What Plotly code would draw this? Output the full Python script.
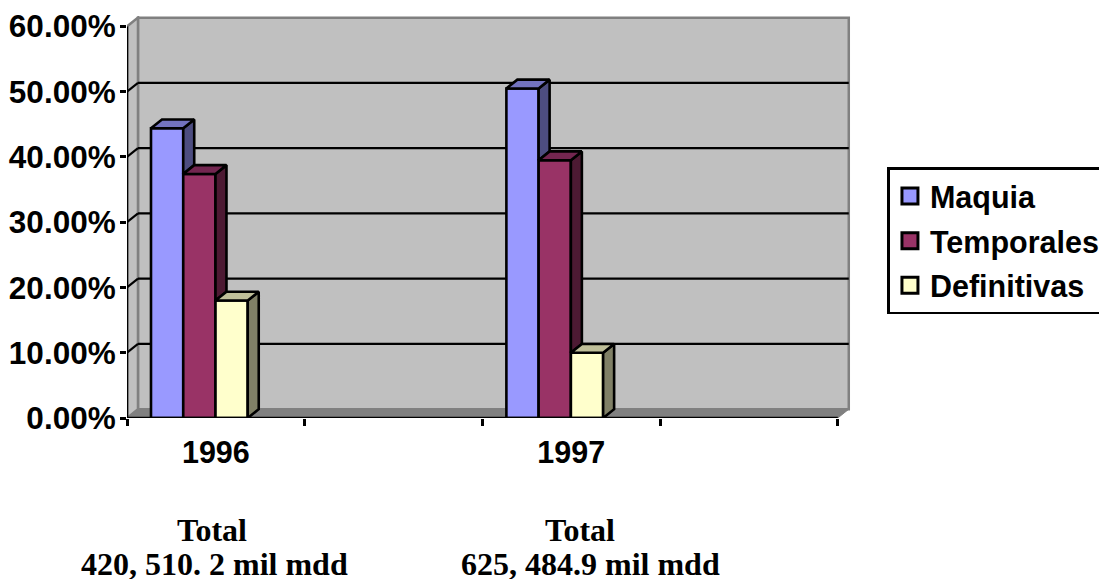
import plotly.graph_objects as go

# ---- data ----
categories = ["1996", "1997"]
category_slots = [0.5, 2.5]          # centre of slot on the 4-slot category axis
series_names = ["Maquia", "Temporales", "Definitivas"]
maquia = [44.4, 50.5]
temporales = [37.4, 39.5]
definitivas = [18.0, 10.0]
y_ticks = [0, 10, 20, 30, 40, 50, 60]
y_ticktext = ["0.00%", "10.00%", "20.00%", "30.00%", "40.00%", "50.00%", "60.00%"]
x_divisions = [0, 1, 2, 3, 4]

# ---- styles ----
series_values = [maquia, temporales, definitivas]
front = ["#9999FF", "#993366", "#FFFFCC"]
side = ["#4D4D80", "#4D1A33", "#808066"]
top = ["#7373BF", "#732650", "#BFBF99"]
DX, DY = 0.0618, 1.35         # oblique depth in axis units
BAR_W, GAP = 0.1815, 0.135
OUT = dict(color="black", width=2.6)
GRID = dict(color="black", width=2.2)
GRAY = "#808080"
WALL = "#C0C0C0"

fig = go.Figure()
for i, (name, vals) in enumerate(zip(series_names, series_values)):
    xs = [s - 0.5 + GAP + BAR_W * (i + 0.5) for s in category_slots]
    fig.add_trace(go.Bar(x=xs, y=vals, width=BAR_W, marker=dict(color=front[i], line=OUT),
                         showlegend=False, name=name, hoverinfo="y"))

def poly(points, fill):
    fig.add_trace(go.Scatter(x=[p[0] for p in points], y=[p[1] for p in points], mode="lines",
                             fill="toself", fillcolor=fill, line=OUT, showlegend=False,
                             hoverinfo="skip", cliponaxis=False))

for i, vals in enumerate(series_values):
    nxt = series_values[i + 1] if i + 1 < len(series_values) else [0] * len(vals)
    for j, v in enumerate(vals):
        l = category_slots[j] - 0.5 + GAP + BAR_W * i
        r = l + BAR_W
        poly([(r, v), (r + DX, v + DY), (r + DX, nxt[j] + DY), (r, nxt[j]), (r, v)], side[i])
        poly([(l, v), (l + DX, v + DY), (r + DX, v + DY), (r, v), (l, v)], top[i])

# axis lines that stop at the front plane
for xs, ys in [([x_divisions[0], x_divisions[-1]], [0, 0]), ([0, 0], [y_ticks[0], y_ticks[-1]])]:
    fig.add_trace(go.Scatter(x=xs, y=ys, mode="lines", line=OUT, showlegend=False,
                             hoverinfo="skip", cliponaxis=False))

# legend entries
for i, name in enumerate(series_names):
    fig.add_trace(go.Scatter(x=[None], y=[None], mode="markers", name=name, legendgroup=name,
                             marker=dict(symbol="square", size=16, color=front[i],
                                         line=dict(color="black", width=3))))

xr = x_divisions[-1]
yt = y_ticks[-1]
shapes = [
    dict(type="rect", x0=DX, x1=xr + DX, y0=DY, y1=yt + DY, fillcolor=WALL, line=dict(color=GRAY, width=2.5), layer="below"),
    dict(type="path", path=f"M 0 0 L {DX} {DY} L {DX} {yt+DY} L 0 {yt} Z", fillcolor=WALL, line=dict(color=GRAY, width=2.5), layer="below"),
    dict(type="path", path=f"M 0 0 L {DX} {DY} L {xr+DX} {DY} L {xr} 0 Z", fillcolor=GRAY, line=dict(color=GRAY, width=1), layer="below"),
]
for v in y_ticks[1:-1]:
    shapes.append(dict(type="line", x0=DX, x1=xr + DX, y0=v + DY, y1=v + DY, line=GRID, layer="below"))
    shapes.append(dict(type="line", x0=0, x1=DX, y0=v, y1=v + DY, line=GRID, layer="below"))

ann_font = dict(family="Liberation Serif", size=32, color="black")
annotations = [
    dict(text="<b>Total</b>", x=211.5, y=582 - 530, font=ann_font, height=30),
    dict(text="<b>420, 510. 2 mil mdd</b>", x=214.5, y=582 - 564, font=ann_font, height=30),
    dict(text="<b>Total</b>", x=580, y=582 - 530, font=ann_font, height=30),
    dict(text="<b>625, 484.9 mil mdd</b>", x=590.5, y=582 - 564, font=ann_font, height=30),
]
for a in annotations:
    a.update(xref="paper", yref="paper", xanchor="center", yanchor="middle", showarrow=False)
    a["x"] = (a["x"] - 126.5) / 726
    a["y"] = (a["y"] - 164) / 402.4

tick_font = dict(family="Liberation Sans", size=31.5, color="black", weight="bold")
x_tick_font = dict(family="Liberation Sans", size=30.5, color="black", weight="bold")
fig.update_layout(
    width=1099, height=582, autosize=False,
    margin=dict(l=126.5, r=246.5, t=15.6, b=164, pad=0, autoexpand=False),
    paper_bgcolor="white", plot_bgcolor="white", barmode="overlay",
    shapes=shapes, annotations=annotations,
    xaxis=dict(range=[0, 4.08], tickmode="array", tickvals=category_slots, ticktext=categories,
               ticks="", showgrid=False, zeroline=False, showline=False, tickfont=x_tick_font,
               ticklabelstandoff=13,
               minor=dict(tickmode="array", tickvals=x_divisions, ticks="outside", ticklen=7,
                          tickwidth=2.5, tickcolor="black", showgrid=False)),
    yaxis=dict(range=[0, 61.6], tickmode="array", tickvals=y_ticks, ticktext=y_ticktext,
               ticks="outside", ticklen=6, tickwidth=2.5, tickcolor="black", showgrid=False,
               zeroline=False, showline=False, tickfont=tick_font, ticklabelstandoff=-2),
    legend=dict(x=(888 - 126.5) / 726, y=(418 - 167) / 402.4, xanchor="left", yanchor="top",
                bgcolor="white", bordercolor="black", borderwidth=2.5, tracegroupgap=2,
                font=dict(family="Liberation Sans", size=30.5, color="black", weight="bold")),
)
fig.write_html("out.html", config=dict(displayModeBar=False),
               post_script="document.body.style.margin='0';document.body.style.overflow='hidden';")
